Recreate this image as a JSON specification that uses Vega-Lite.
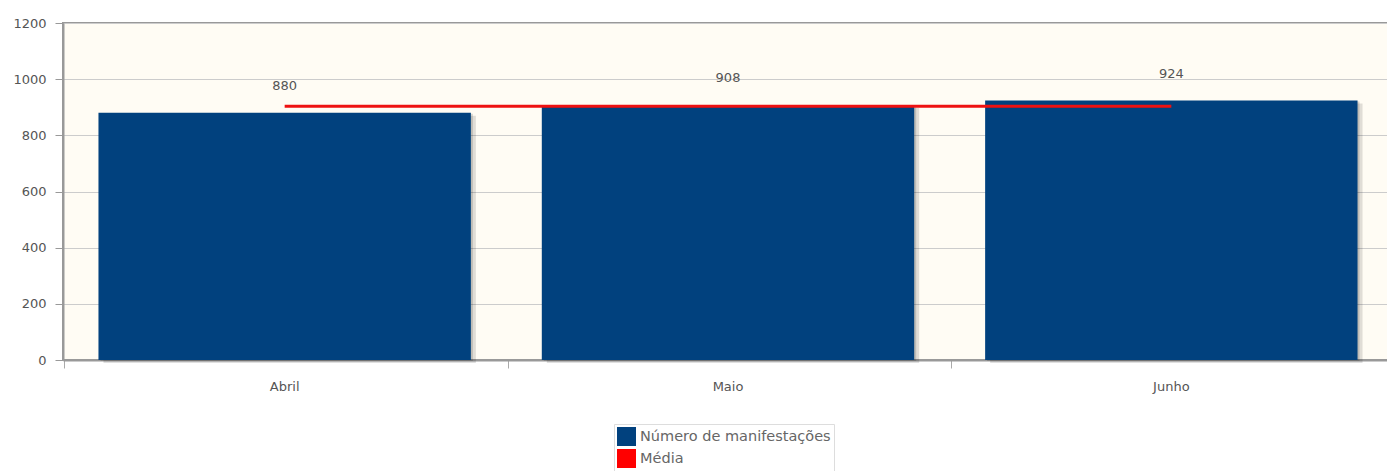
{
  "$schema": "https://vega.github.io/schema/vega-lite/v6.json",
  "autosize": {"type": "none"},
  "padding": {"left": 63, "top": 23, "right": 0, "bottom": 111},
  "width": 1330,
  "height": 337,
  "background": "#ffffff",
  "config": {
    "view": {"fill": "#FFFCF4", "stroke": "#999999", "strokeWidth": 2},
    "font": "DejaVu Sans",
    "axis": {"labelFont": "DejaVu Sans", "labelFontSize": 13, "labelColor": "#555555"}
  },
  "datasets": {
    "meses": [
      {"mes": "Abril", "valor": 880, "serie": "Número de manifestações"},
      {"mes": "Maio", "valor": 908, "serie": "Número de manifestações"},
      {"mes": "Junho", "valor": 924, "serie": "Número de manifestações"}
    ],
    "media": [
      {"mes": "Abril", "media": 904},
      {"mes": "Maio", "media": 904},
      {"mes": "Junho", "media": 904}
    ]
  },
  "encoding": {
    "x": {
      "field": "mes", "type": "nominal", "sort": ["Abril", "Maio", "Junho"],
      "scale": {"paddingInner": 0.16, "paddingOuter": 0.08},
      "axis": {"title": null, "labelAngle": 0, "domainColor": "#999999", "domainWidth": 2, "tickColor": "#aaaaaa", "tickSize": 8, "tickWidth": 1, "bandPosition": -0.09, "labelPadding": 12, "grid": false}
    }
  },
  "layer": [
    {
      "data": {"name": "meses"},
      "mark": {"type": "bar", "color": "#000000", "opacity": 0.12, "xOffset": 5, "yOffset": 3},
      "encoding": {
        "y": {"field": "valor", "type": "quantitative"}
      }
    },
    {
      "data": {"name": "meses"},
      "mark": {"type": "bar", "color": "#000000", "opacity": 0.15, "xOffset": 2, "yOffset": 1},
      "encoding": {
        "y": {"field": "valor", "type": "quantitative"}
      }
    },
    {
      "data": {"name": "meses"},
      "mark": {"type": "bar"},
      "encoding": {
        "y": {
          "field": "valor", "type": "quantitative",
          "scale": {"domain": [0, 1200]},
          "axis": {"title": null, "format": "d", "values": [0, 200, 400, 600, 800, 1000, 1200], "domainColor": "#999999", "domainWidth": 2, "tickColor": "#999999", "tickSize": 8, "labelPadding": 9, "gridColor": "#cccccc", "gridWidth": 1}
        },
        "color": {
          "field": "serie", "type": "nominal",
          "scale": {"domain": ["Número de manifestações", "Média"], "range": ["#01417E", "#FF0000"]},
          "legend": {
            "title": null, "orient": "none", "legendX": 551, "legendY": 401,
            "symbolType": "square", "symbolSize": 360, "symbolStrokeWidth": 0,
            "labelFontSize": 14.5, "labelColor": "#666666", "labelFont": "DejaVu Sans", "labelLimit": 0,
            "rowPadding": 3, "labelOffset": 4, "padding": 3,
            "strokeColor": "#dddddd", "fillColor": "#ffffff"
          }
        }
      }
    },
    {
      "data": {"name": "media"},
      "mark": {"type": "line", "color": "#EE1111", "strokeWidth": 3},
      "encoding": {
        "y": {"field": "media", "type": "quantitative"}
      }
    },
    {
      "data": {"name": "meses"},
      "mark": {"type": "text", "dy": -27, "fontSize": 13, "color": "#555555", "baseline": "middle"},
      "encoding": {
        "y": {"field": "valor", "type": "quantitative"},
        "text": {"field": "valor", "type": "quantitative"}
      }
    }
  ]
}
